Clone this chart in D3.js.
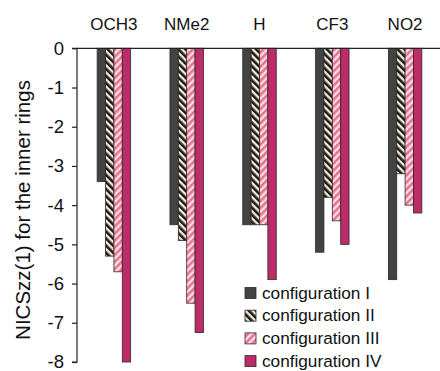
<!DOCTYPE html>
<html><head><meta charset="utf-8">
<script src="https://cdn.jsdelivr.net/npm/d3@7"></script>
<style>body{margin:0;background:#fff}svg{display:block}</style>
</head><body>
<script>
const categories = ["OCH3", "NMe2", "H", "CF3", "NO2"];
const seriesNames = ["configuration I", "configuration II", "configuration III", "configuration IV"];
const configI   = [-3.4, -4.5, -4.5, -5.2, -5.9];
const configII  = [-5.3, -4.9, -4.5, -3.8, -3.2];
const configIII = [-5.7, -6.5, -4.5, -4.4, -4.0];
const configIV  = [-8.0, -7.25, -5.9, -5.0, -4.2];
const yTicks = [0, -1, -2, -3, -4, -5, -6, -7, -8];
const yTitle = "NICSzz(1) for the inner rings";

const series = [configI, configII, configIII, configIV];
const W = 440, H = 371;
const svg = d3.select("body").append("svg").attr("width", W).attr("height", H)
  .style("font-family", "Liberation Sans, Arial, sans-serif");

const defs = svg.append("defs");
const p2 = defs.append("pattern").attr("id","hatch2").attr("patternUnits","userSpaceOnUse")
  .attr("width",5).attr("height",5).attr("patternTransform","rotate(-45)");
p2.append("rect").attr("width",5).attr("height",5).attr("fill","#f6ead8");
p2.append("rect").attr("width",2.6).attr("height",5).attr("fill","#1a1a1a");
const p3 = defs.append("pattern").attr("id","hatch3").attr("patternUnits","userSpaceOnUse")
  .attr("width",5).attr("height",5).attr("patternTransform","rotate(45)");
p3.append("rect").attr("width",5).attr("height",5).attr("fill","#fbe2dc");
p3.append("rect").attr("width",2.6).attr("height",5).attr("fill","#ec6e98");

const fills = ["#434343", "url(#hatch2)", "url(#hatch3)", "#bb2c68"];

const x0 = d3.scaleBand().domain(categories).range([77.5, 441.5]).paddingInner(0.54).paddingOuter(0.27);
const x1 = d3.scaleBand().domain(d3.range(4)).range([0, x0.bandwidth()]);
const y = d3.scaleLinear().domain([0, -8]).range([48.3, 362]);

// bars
categories.forEach((c, i) => {
  series.forEach((s, j) => {
    svg.append("rect")
      .attr("x", x0(c) + x1(j))
      .attr("y", y(0))
      .attr("width", x1.bandwidth())
      .attr("height", y(s[i]) - y(0))
      .attr("fill", fills[j])
      .attr("stroke", "#2a2a2a").attr("stroke-width", 0.8);
  });
});

// y axis
const yAxis = d3.axisLeft(y).tickValues(yTicks).tickSize(5).tickPadding(8).tickFormat(d => String(d));
const ga = svg.append("g").attr("transform", "translate(77,0)").call(yAxis);
ga.select(".domain").attr("stroke", "#222").attr("stroke-width", 1.2).attr("d", `M-5,${y(0)}H0V${y(-8)}H-5`);
ga.selectAll(".tick line").attr("stroke", "#222").attr("stroke-width", 1.2);
ga.selectAll(".tick text").attr("font-size", 18.5).attr("fill", "#111")
  .attr("font-family", "Liberation Sans, Arial, sans-serif");

// x baseline
svg.append("line").attr("x1", 77).attr("x2", 440).attr("y1", y(0)).attr("y2", y(0))
  .attr("stroke", "#222").attr("stroke-width", 1.2);

// category labels
svg.selectAll(".cat").data(categories).enter().append("text")
  .attr("x", d => x0(d) + x0.bandwidth() / 2).attr("y", 30)
  .attr("text-anchor", "middle").attr("font-size", 17).attr("fill", "#111").text(d => d);

// y title
svg.append("text").attr("transform", "translate(30,210) rotate(-90)")
  .attr("text-anchor", "middle").attr("font-size", 20.5).attr("fill", "#111").text(yTitle);

// legend
const lg = svg.append("g");
seriesNames.forEach((n, j) => {
  const yy = 293 + j * 22.7;
  lg.append("rect").attr("x", 245).attr("y", yy - 5.5).attr("width", 11).attr("height", 11)
    .attr("fill", fills[j]).attr("stroke", "#2a2a2a").attr("stroke-width", 0.8);
  lg.append("text").attr("x", 262).attr("y", yy + 5.5).attr("font-size", 17.2).attr("fill", "#111").text(n);
});
</script>
</body></html>
